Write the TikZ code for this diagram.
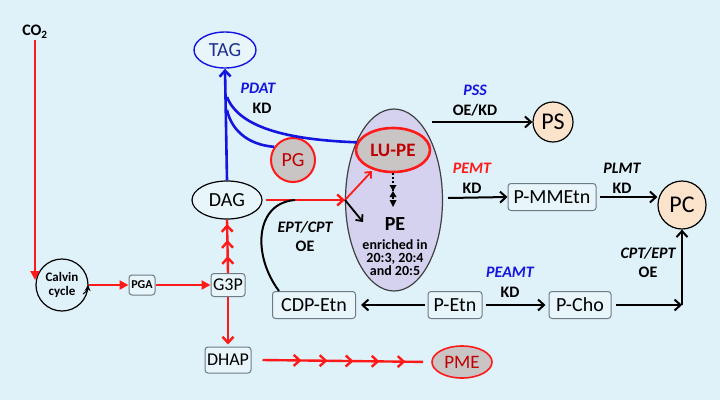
\documentclass[tikz,border=0pt]{standalone}
\usepackage{fontspec}
\setmainfont{Carlito}
\usetikzlibrary{arrows.meta,shapes.geometric,decorations.markings}
\definecolor{bg}{HTML}{DFF1F9}
\definecolor{myred}{HTML}{FF1A1A}
\definecolor{myblue}{HTML}{1515E0}
\definecolor{navy}{HTML}{1F2F8F}
\definecolor{dred}{HTML}{C00000}
\definecolor{grayfill}{HTML}{C9C5C5}
\definecolor{peach}{HTML}{FCE4CC}
\definecolor{lav}{HTML}{D4D2EE}
\definecolor{boxfill}{HTML}{E8F5FB}
\definecolor{boxline}{HTML}{6E7B85}
\begin{document}
\begin{tikzpicture}[x=1pt,y=-1pt,
  every node/.style={font=\fontsize{20}{22}\selectfont},
  box/.style={draw=boxline, fill=boxfill, rounded corners=3pt, line width=1pt, inner sep=0pt, minimum height=27pt},
  lab/.style={font=\fontsize{16}{18}\selectfont\bfseries},
  enz/.style={font=\fontsize{16}{18}\selectfont\bfseries\itshape},
  barb/.tip={Straight Barb[length=6pt,width=11pt]},
  tri/.tip={Triangle[length=9pt,width=9pt]},
  rline/.style={draw=myred, line width=2.4pt},
  bline/.style={draw=black, line width=2pt},
  uline/.style={draw=myblue, line width=2.6pt},
  chev/.style 2 args={decoration={markings, mark=between positions #1 and #2 step 16pt with {\arrow{barb}}}, postaction=decorate},
  chevw/.style 2 args={decoration={markings, mark=between positions #1 and #2 step 26pt with {\arrow{barb}}}, postaction=decorate},
]
\fill[bg] (0,0) rectangle (720,400);
\useasboundingbox (0,0) rectangle (720,400);

% big ellipse
\node[ellipse, draw=black!75, fill=lav, line width=1.2pt, minimum width=97pt, minimum height=182pt] (big) at (394,200) {};

% nodes
\node[font=\fontsize{16}{18}\selectfont\bfseries, inner sep=1pt] (co2) at (35,32) {CO\textsubscript{2}};
\node[circle, draw=black, line width=1.2pt, minimum size=52pt, inner sep=0pt, align=center, font=\fontsize{13}{14}\selectfont\bfseries] (calvin) at (62,285) {Calvin\\cycle};
\node[box, minimum width=26pt, minimum height=20pt, font=\fontsize{12}{14}\selectfont\bfseries] (pga) at (142,285) {PGA};
\node[box, minimum width=34pt, minimum height=23pt, font=\fontsize{18}{20}\selectfont] (g3p) at (228,285) {G3P};
\node[ellipse, draw=black, fill=boxfill, line width=1.2pt, minimum width=70pt, minimum height=38pt, inner sep=0pt] (dag) at (227,200) {DAG};
\node[box, minimum width=46pt, minimum height=26pt, font=\fontsize{18}{20}\selectfont] (dhap) at (228,360) {DHAP};
\node[ellipse, draw=myred, fill=grayfill, line width=1.6pt, minimum width=60pt, minimum height=32pt, inner sep=0pt, text=dred, font=\fontsize{19}{20}\selectfont] (pme) at (462,362) {PME};
\node[ellipse, draw=myblue, fill=boxfill, line width=1.4pt, minimum width=62pt, minimum height=36pt, inner sep=0pt, text=navy] (tag) at (225,50) {TAG};
\node[circle, draw=myred, fill=grayfill, line width=2pt, minimum size=44pt, inner sep=0pt, text=dred] (pg) at (293,160) {PG};
\node[ellipse, draw=myred, fill=grayfill, line width=2.6pt, minimum width=74pt, minimum height=44pt, inner sep=0pt, text=dred, font=\fontsize{19}{20}\selectfont\bfseries] (lupe) at (393,150) {LU-PE};
\node[font=\fontsize{20}{22}\selectfont\bfseries, inner sep=1pt] (pe) at (395,224) {PE};
\node[font=\fontsize{14}{13}\selectfont\bfseries, align=center, inner sep=0pt] (enr) at (395,258) {enriched in\\20:3, 20:4\\and 20:5};
\node[circle, draw=black, fill=peach, line width=1.2pt, minimum size=40pt, inner sep=0pt, font=\fontsize{24}{26}\selectfont] (ps) at (553,122) {PS};
\node[box, minimum width=88pt] (pmmetn) at (552,197) {P-MMEtn};
\node[circle, draw=black, fill=peach, line width=1.2pt, minimum size=48pt, inner sep=0pt, font=\fontsize{24}{26}\selectfont] (pc) at (682,205) {PC};
\node[box, minimum width=83pt] (cdpetn) at (314,305) {CDP-Etn};
\node[box, minimum width=54pt] (petn) at (455,305) {P-Etn};
\node[box, minimum width=62pt] (pcho) at (580,305) {P-Cho};

% labels
\node[enz, text=myblue] (l1) at (258,88) {PDAT};
\node[lab] (l2) at (262,108) {KD};
\node[enz, text=myblue] (l3) at (475,90) {PSS};
\node[lab] (l4) at (475,110) {OE/KD};
\node[enz, text=myred] (l5) at (472,168) {PEMT};
\node[lab] (l6) at (472,188) {KD};
\node[enz] (l7) at (622,168) {PLMT};
\node[lab] (l8) at (622,188) {KD};
\node[enz] (l9) at (305,227) {EPT/CPT};
\node[lab] (l10) at (305,246) {OE};
\node[enz, text=myblue] (l11) at (510,272) {PEAMT};
\node[lab] (l12) at (510,292) {KD};
\node[enz] (l13) at (648,253) {CPT/EPT};
\node[lab] (l14) at (648,272) {OE};

% coordinates
\coordinate (co2end) at (35,280);
\coordinate (fork) at (345,200);
\coordinate (forkin) at (372,171);
\coordinate (forkpe) at (363,222);
\coordinate (pss) at (432,122);
\coordinate (pemt) at (448,198);
\coordinate (corner) at (682,305);
\coordinate (j1) at (227,97);
\coordinate (j2) at (227,110);
\coordinate (cj) at (295,200);

% red pathway
\draw[rline, -tri] (co2.south) -- (co2end);
\draw[rline, -tri] (calvin.east) -- (pga.west);
\draw[rline, -tri] (pga.east) -- (g3p.west);
\draw[rline, chev={17pt}{50pt}] (g3p.north) -- (dag.south);
\draw[rline, -barb, shorten >=2pt] (g3p.south) -- (dhap.north);
\draw[rline, shorten >=8pt, chevw={39pt}{170pt}] ([xshift=11pt]dhap.east) -- (pme.west);
\draw[rline, -barb] ([xshift=3pt]dag.east) -- (fork);
\draw[myred, line width=1.8pt, -{Straight Barb[length=5pt,width=9pt]}] (fork) -- (forkin);
\draw[black, line width=1.8pt, -{Straight Barb[length=5pt,width=9pt]}] (fork) -- (forkpe);

% calvin small arrow
\draw[black, line width=1pt, -{Stealth[length=6pt,width=6pt]}] (83,294) to[bend right=25] (88,285);

% dashed link LU-PE / PE
\draw[black, line width=1.3pt, dash pattern=on 2pt off 2pt] (lupe.south) -- (393,204);
\fill[black] (389.5,185) -- (396.5,185) -- (393,191) -- cycle;
\fill[black] (389.5,197) -- (396.5,197) -- (393,191) -- cycle;
\fill[black] (389.5,200) -- (396.5,200) -- (393,207) -- cycle;

% blue
\draw[uline, -barb] (dag.north) -- (tag.south);
\draw[uline] (lupe.168) .. controls (295,140) and (240,130) .. (j1);
\draw[uline] (pg.145) .. controls (250,145) and (232,132) .. (j2);

% black connections
\draw[bline, -barb] (pss) -- (ps.west);
\draw[bline, -barb] (pemt) -- (pmmetn.west);
\draw[bline, -barb, shorten <=3pt] (pmmetn.east) -- (pmmetn.east -| pc.west);
\draw[bline, -barb, shorten <=3pt, shorten >=5pt] (petn.west) -- (cdpetn.east);
\draw[bline, -barb, shorten <=3pt, shorten >=3pt] (petn.east) -- (pcho.west);
\draw[bline, -barb, shorten <=4pt] (pcho.east) -- (corner);
\draw[bline, -barb] (corner) -- (pc.south);
\draw[bline] ([xshift=-35pt]cdpetn.north) .. controls (252,255) and (255,203) .. (cj);
\end{tikzpicture}
\end{document}
